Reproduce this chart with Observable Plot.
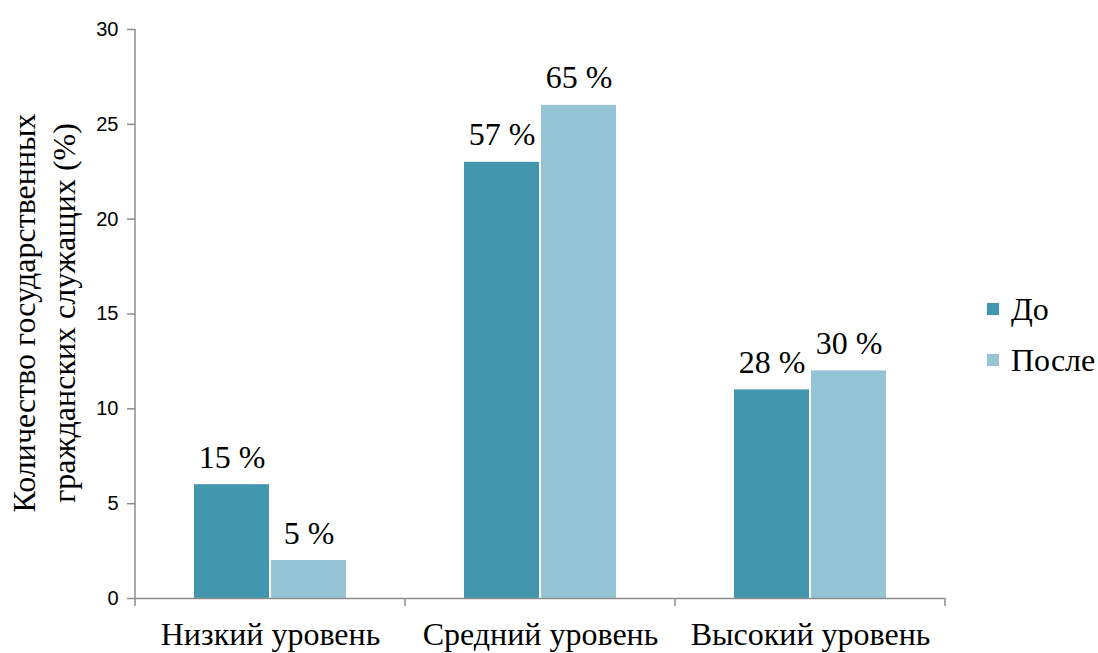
<!DOCTYPE html>
<html>
<head>
<meta charset="utf-8">
<script src="https://cdn.jsdelivr.net/npm/d3@7"></script>
<script src="https://cdn.jsdelivr.net/npm/@observablehq/plot@0.6"></script>
<style>
  html, body { margin: 0; padding: 0; background: #fff; }
  #wrap { position: relative; width: 1098px; height: 653px; overflow: hidden; }
  .serif { font-family: "Liberation Serif", "DejaVu Serif", serif; color: #000; }
  #ylabel { position: absolute; left: 44px; top: 313px; transform: translate(-50%, -50%) rotate(-90deg);
            font-size: 32px; line-height: 40px; text-align: center; white-space: nowrap; }
  #legend { position: absolute; left: 987px; top: 289px; font-size: 32px; }
  .li { display: flex; align-items: center; height: 40px; margin-bottom: 11px; }
  .sw { width: 12px; height: 12px; margin-right: 12px; box-shadow: 0 0 1px rgba(0,0,0,0.15); }
</style>
</head>
<body>
<div id="wrap">
  <div id="chart"></div>
  <div id="ylabel" class="serif">Количество государственных<br>гражданских служащих (%)</div>
  <div id="legend" class="serif"></div>
</div>
<script>
const categories = ["Низкий уровень", "Средний уровень", "Высокий уровень"];
const series = ["До", "После"];
const beforeValues = [6, 23, 11];
const afterValues = [2, 26, 12];
const beforeLabels = ["15 %", "57 %", "28 %"];
const afterLabels = ["5 %", "65 %", "30 %"];
const yTicks = [0, 5, 10, 15, 20, 25, 30];
const colors = ["#4297AF", "#94C4D6"];

const data = [];
categories.forEach((c, i) => {
  data.push({cat: c, series: series[0], value: beforeValues[i], label: beforeLabels[i]});
  data.push({cat: c, series: series[1], value: afterValues[i], label: afterLabels[i]});
});

const serif = "'Liberation Serif', 'DejaVu Serif', serif";

const plot = Plot.plot({
  width: 1098,
  height: 653,
  marginLeft: 135,
  marginRight: 153,
  marginTop: 29,
  marginBottom: 55,
  style: {background: "transparent", overflow: "visible",
          fontFamily: "'Liberation Sans', Arial, sans-serif", fontSize: "20px", color: "#000"},
  fx: {domain: categories, padding: 0},
  x: {domain: series, paddingInner: 0.026, paddingOuter: 0.744, axis: null},
  y: {domain: [0, 30]},
  color: {domain: series, range: colors},
  marks: [
    Plot.barY(data, {fx: "cat", x: "series", y: "value", fill: "series",
      style: "filter: drop-shadow(1px 1px 1.5px rgba(0,0,0,0.25))"}),
    Plot.ruleY([0], {stroke: "#8c8c8c", strokeWidth: 1.5}),
    Plot.text(data, {fx: "cat", x: "series", y: "value", text: "label",
      lineAnchor: "bottom", dy: -17, fontSize: 32, fill: "#000", fontFamily: serif}),
    Plot.axisY({ticks: yTicks, tickSize: 8, tickPadding: 9, tickFormat: d => String(d),
      label: null, stroke: "#8c8c8c", strokeWidth: 1.5, fill: "#000", fontSize: 20}),
    Plot.axisFx({anchor: "bottom", tickSize: 0, tickPadding: 24, fontSize: 32, fill: "#000",
      fontFamily: serif, label: null})
  ]
});

document.getElementById("chart").appendChild(plot);

// Axis domain line and category boundary ticks derived from the plot's scales
const svg = d3.select(plot);
const fx = plot.scale("fx");
const y = plot.scale("y");
const y0 = y.apply(0), y1 = y.apply(30);
const bounds = categories.map(c => fx.apply(c));
bounds.push(fx.apply(categories[categories.length - 1]) + fx.bandwidth);
const g = svg.append("g").attr("stroke", "#8c8c8c").attr("stroke-width", 1.5);
g.append("line").attr("x1", bounds[0]).attr("x2", bounds[0]).attr("y1", y1).attr("y2", y0);
bounds.forEach(b => g.append("line").attr("x1", b).attr("x2", b).attr("y1", y0).attr("y2", y0 + 8));

// Legend
const legend = d3.select("#legend");
series.forEach((s, i) => {
  const row = legend.append("div").attr("class", "li");
  row.append("div").attr("class", "sw").style("background", colors[i]);
  row.append("span").text(s);
});
</script>
</body>
</html>
